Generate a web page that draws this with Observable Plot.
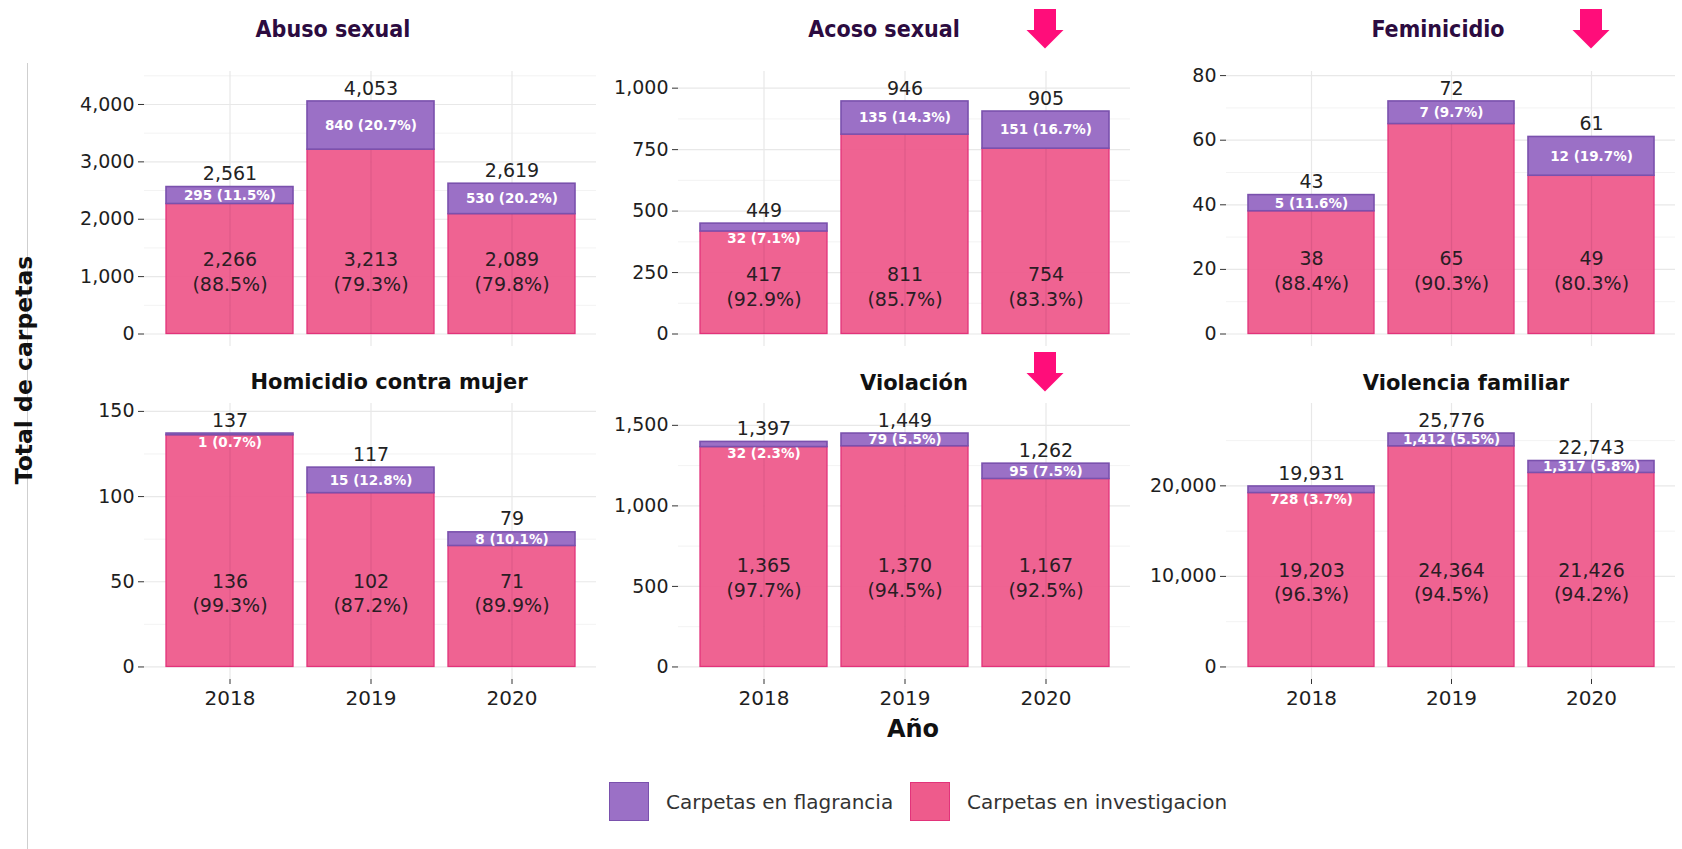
<!DOCTYPE html>
<html>
<head>
<meta charset="utf-8">
<script src="https://cdn.jsdelivr.net/npm/d3@7"></script>
<script src="https://cdn.jsdelivr.net/npm/@observablehq/plot@0.6"></script>
<style>
  body { margin: 0; background: #fff; }
  #root { position: relative; width: 1682px; height: 849px; overflow: hidden; font-family: "DejaVu Sans", sans-serif; background: #fff; }
  .abs { position: absolute; }
  .ctr { transform: translate(-50%, -50%); line-height: 1; white-space: nowrap; }
  .t-top { font-family: "Liberation Sans Narrow", "DejaVu Sans Condensed", "Open Sans", sans-serif; font-weight: bold; font-size: 23px; color: #2c0b40; }
  .t-bot { font-family: "DejaVu Sans", sans-serif; font-weight: bold; font-size: 21px; color: #111; }
  .panel svg { overflow: visible; }
</style>
</head>
<body>
<div id="root"></div>
<script>
// ---------- data ----------
const years = ["2018", "2019", "2020"];
const delitos = ["Abuso sexual", "Acoso sexual", "Feminicidio", "Homicidio contra mujer", "Violación", "Violencia familiar"];
const investigacion = [
  [2266, 3213, 2089],
  [417, 811, 754],
  [38, 65, 49],
  [136, 102, 71],
  [1365, 1370, 1167],
  [19203, 24364, 21426]
];
const flagrancia = [
  [295, 840, 530],
  [32, 135, 151],
  [5, 7, 12],
  [1, 15, 8],
  [32, 79, 95],
  [728, 1412, 1317]
];
const yTicks = [
  [0, 1000, 2000, 3000, 4000],
  [0, 250, 500, 750, 1000],
  [0, 20, 40, 60, 80],
  [0, 50, 100, 150],
  [0, 500, 1000, 1500],
  [0, 10000, 20000]
];
// vertical position (data units) of the two-line labels inside the pink bars
const etiquetaY = [1100, 197, 20, 44, 562, 9470];
const legendLabels = ["Carpetas en flagrancia", "Carpetas en investigacion"];
const yTitle = "Total de carpetas";
const xTitle = "Año";
const destacados = [1, 2, 4]; // panels with a pink arrow over 2020

// ---------- layout & style ----------
const PINK = "#ee5b8c", PINK_S = "#e2337a";
const PURPLE = "#9b70c6", PURPLE_S = "#7a51ad";
const ARROW = "#ff0d7a";
const FONT = "'DejaVu Sans', sans-serif";
const colX = [[144, 596], [678, 1130], [1226, 1675]];
const rowY = [[71, 346], [403, 679]];
const titlePos = [[333, 29], [884, 29], [1438, 29], [389, 382], [914, 383], [1466, 383]];
const arrowTop = [null, 9, 9, null, 352, null];
const mL = 90, mR = 4, mT = 20, mB = 52;

const fmt = d3.format(",");
const pct = (a, t) => (100 * a / t).toFixed(1);
const root = document.getElementById("root");

function addDiv(cls, x, y, text, extra) {
  const d = document.createElement("div");
  d.className = "abs ctr " + cls;
  d.style.left = x + "px";
  d.style.top = y + "px";
  d.textContent = text;
  if (extra) Object.assign(d.style, extra);
  root.appendChild(d);
  return d;
}

// gray left rule
const rule = document.createElement("div");
rule.className = "abs";
Object.assign(rule.style, { left: "27px", top: "63px", width: "1px", height: "790px", background: "#cfcfcf" });
root.appendChild(rule);

delitos.forEach((name, i) => {
  const col = i % 3, row = Math.floor(i / 3);
  const [fx0, fx1] = colX[col];
  const [fy0, fy1] = rowY[row];
  const fH = fy1 - fy0;
  const rows = years.map((yr, j) => {
    const inv = investigacion[i][j], flag = flagrancia[i][j], total = inv + flag;
    return { year: yr, inv, flag, total };
  });
  const D = d3.max(rows, r => r.total) * 1.075;
  const lo = -0.05 * D, hi = 1.05 * D;
  const step = yTicks[i][1] - yTicks[i][0];
  const minor = d3.range(yTicks[i][0] - step / 2, hi, step).filter(v => v >= lo && v <= hi);
  const small = r => r.flag * fH / (hi - lo) < 11;

  const plot = Plot.plot({
    width: (fx1 - fx0) + mL + mR,
    height: fH + mT + mB,
    marginLeft: mL, marginRight: mR, marginTop: mT, marginBottom: mB,
    style: { fontFamily: FONT, color: "#1e1e1e", background: "transparent", overflow: "visible" },
    x: { type: "band", domain: years, paddingInner: 0.1, paddingOuter: 0.15, axis: null },
    y: { domain: [lo, hi], axis: null },
    marks: [
      Plot.ruleY(minor, { stroke: "#f2f2f2", strokeWidth: 0.9 }),
      Plot.gridY({ ticks: yTicks[i], stroke: "#e8e8e8", strokeOpacity: 1, strokeWidth: 1.2 }),
      Plot.gridX({ stroke: "#e8e8e8", strokeOpacity: 1, strokeWidth: 1.2 }),
      Plot.barY(rows, { x: "year", y1: 0, y2: "inv", fill: PINK, fillOpacity: 0.95, stroke: PINK_S, strokeWidth: 1.3 }),
      Plot.ruleX(rows, { x: "year", y1: 0, y2: "total", stroke: "#6a1d45", strokeOpacity: 0.13, strokeWidth: 1.2 }),
      Plot.text(rows.filter(small), {
        x: "year", y: "inv", dy: 7, text: r => `${fmt(r.flag)} (${pct(r.flag, r.total)}%)`,
        fill: "white", fontWeight: "bold", fontSize: 13.5, lineAnchor: "middle"
      }),
      Plot.barY(rows, { x: "year", y1: "inv", y2: "total", fill: PURPLE, stroke: PURPLE_S, strokeWidth: 1.6 }),
      Plot.text(rows.filter(r => !small(r)), {
        x: "year", y: r => r.inv + r.flag / 2, text: r => `${fmt(r.flag)} (${pct(r.flag, r.total)}%)`,
        fill: "white", fontWeight: "bold", fontSize: 13.5, lineAnchor: "middle"
      }),
      Plot.text(rows, {
        x: "year", y: "total", dy: -13, text: r => fmt(r.total),
        fill: "#222", fontSize: 19, lineAnchor: "middle"
      }),
      Plot.text(rows, {
        x: "year", y: () => etiquetaY[i], text: r => `${fmt(r.inv)}\n(${pct(r.inv, r.total)}%)`,
        fill: "#2a1d24", fontSize: 19, lineHeight: 1.3, lineAnchor: "middle"
      }),
      Plot.axisY({ ticks: yTicks[i], tickFormat: fmt, tickSize: 6, tickPadding: 4, fontSize: 19, label: null, stroke: "#333" }),
      row === 1 ? Plot.axisX({ tickSize: 5, tickPadding: 6, fontSize: 20, label: null, stroke: "#333" }) : null
    ]
  });
  const wrap = document.createElement("div");
  wrap.className = "abs panel";
  wrap.style.left = (fx0 - mL) + "px";
  wrap.style.top = (fy0 - mT) + "px";
  wrap.appendChild(plot);
  root.appendChild(wrap);

  addDiv(row === 0 ? "t-top" : "t-bot", titlePos[i][0], titlePos[i][1], name);

  if (destacados.includes(i)) {
    // arrow over the 2020 bar
    const x = d3.scaleBand().domain(years).range([fx0, fx1]).paddingInner(0.1).paddingOuter(0.15);
    const cx = x("2020") + x.bandwidth() / 2;
    const y0 = arrowTop[i];
    const ns = "http://www.w3.org/2000/svg";
    const svg = document.createElementNS(ns, "svg");
    svg.setAttribute("width", 40); svg.setAttribute("height", 42);
    svg.style.position = "absolute";
    svg.style.left = (cx - 20) + "px";
    svg.style.top = y0 + "px";
    const p = document.createElementNS(ns, "path");
    p.setAttribute("d", "M9,0 H31 V21 H38.5 L20,39.5 L1.5,21 H9 Z");
    p.setAttribute("fill", ARROW);
    svg.appendChild(p);
    root.appendChild(svg);
  }
});

// axis titles
addDiv("", 25, 370, yTitle, { transform: "translate(-50%,-50%) rotate(-90deg)", fontFamily: FONT, fontWeight: "bold", fontSize: "23.5px", color: "#111" });
addDiv("", 913, 729, xTitle, { fontFamily: FONT, fontWeight: "bold", fontSize: "24px", color: "#111" });

// legend
const legendItems = [
  { label: legendLabels[0], fill: PURPLE, stroke: PURPLE_S, x: 609 },
  { label: legendLabels[1], fill: PINK, stroke: PINK_S, x: 910 }
];
legendItems.forEach(it => {
  const sq = document.createElement("div");
  sq.className = "abs";
  Object.assign(sq.style, { left: it.x + "px", top: "782px", width: "38px", height: "37px", background: it.fill, border: `1.5px solid ${it.stroke}` });
  root.appendChild(sq);
  const t = document.createElement("div");
  t.className = "abs";
  Object.assign(t.style, { left: (it.x + 57) + "px", top: "790px", fontSize: "20px", lineHeight: "24px", color: "#333", fontFamily: FONT, whiteSpace: "nowrap" });
  t.textContent = it.label;
  root.appendChild(t);
});
</script>
</body>
</html>
